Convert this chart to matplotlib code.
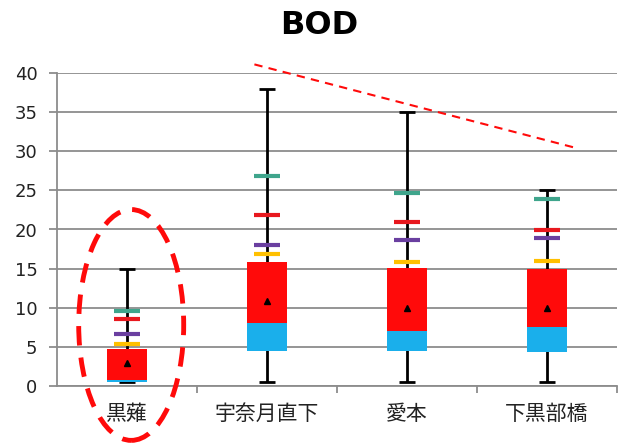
import matplotlib.pyplot as plt
from matplotlib.patches import Ellipse

# -------------------------------
# Data
# -------------------------------
sites = ["黒薙", "宇奈月直下", "愛本", "下黒部橋"]
whisker_min = [0.5, 0.5, 0.5, 0.5]
whisker_max = [15.0, 38.0, 35.0, 25.0]
box_low = [0.5, 4.5, 4.5, 4.3]     # bottom of cyan part
box_mid = [0.8, 8.0, 7.0, 7.5]     # cyan / red boundary
box_high = [4.7, 15.9, 15.1, 14.9]  # top of red part
mean_val = [2.9, 10.8, 10.0, 10.0]
mark_yellow = [5.4, 16.9, 15.9, 16.0]
mark_purple = [6.7, 18.0, 18.6, 18.9]
mark_red = [8.6, 21.8, 20.9, 19.9]
mark_teal = [9.6, 26.8, 24.7, 23.9]

# -------------------------------
# Styles
# -------------------------------
CYAN = "#1AAFEB"
RED = "#FF0A0A"
GRID = "#8C8C8C"
mark_colors = {"yellow": "#FFC000", "purple": "#6A3FA0",
               "red": "#E8181E", "teal": "#3FA58C"}

fig = plt.figure(figsize=(6.2, 4.44), dpi=100)
ax = fig.add_axes([57 / 620, 1 - 386 / 444, 560 / 620, 313 / 444])

x = list(range(len(sites)))

# whiskers behind the boxes
ax.vlines(x, whisker_min, whisker_max, color="black", lw=2, zorder=2)
ax.plot(x, whisker_min, ls="none", marker="_", ms=11, mew=2, color="black", zorder=2)
ax.plot(x, whisker_max, ls="none", marker="_", ms=11, mew=2, color="black", zorder=2)

# stacked box: cyan lower part, red upper part
bw = 0.285
ax.bar(x, [m - l for m, l in zip(box_mid, box_low)], bottom=box_low,
       width=bw, color=CYAN, zorder=3)
ax.bar(x, [h - m for h, m in zip(box_high, box_mid)], bottom=box_mid,
       width=bw, color=RED, zorder=3)

# coloured level marks on the whisker
for vals, key in [(mark_yellow, "yellow"), (mark_purple, "purple"),
                  (mark_red, "red"), (mark_teal, "teal")]:
    ax.plot(x, vals, ls="none", marker="_", ms=19, mew=3,
            color=mark_colors[key], zorder=4)

# mean
ax.plot(x, mean_val, ls="none", marker="^", ms=5, color="black", zorder=5)

# -------------------------------
# Axes
# -------------------------------
ax.set_xlim(-0.5, len(sites) - 0.5)
ax.set_ylim(0, 40)
ax.set_yticks(range(0, 41, 5))
ax.grid(axis="y", color=GRID, lw=1.3, zorder=0)
ax.set_axisbelow(True)

for s in ["top", "right"]:
    ax.spines[s].set_visible(False)
for s in ["left", "bottom"]:
    ax.spines[s].set_color(GRID)
    ax.spines[s].set_linewidth(1.3)

ax.set_xticks(x)
ax.set_xticklabels(sites, family=["Noto Sans CJK JP", "DejaVu Sans"],
                   fontsize=15, color="#222222")
ax.set_xticks([i + 0.5 for i in range(len(sites))], minor=True)
ax.tick_params(axis="x", which="major", length=0, pad=12)
ax.tick_params(axis="x", which="minor", length=5, color=GRID, width=1.3,
               direction="out")
ax.tick_params(axis="y", length=6, color=GRID, width=1.3, pad=8,
               labelsize=13, labelcolor="#222222")

fig.text(0.515, 1 - 25 / 444, "BOD", ha="center", va="center",
         fontsize=23, fontweight="bold")

# annotations: dashed ellipse around 黒薙 and dashed trend line
ell = Ellipse((0.03, 7.8), 0.75, 29.5, fill=False, edgecolor=RED,
              lw=3.5, ls=(0, (4, 2.5)), clip_on=False, zorder=6)
ax.add_patch(ell)
ax.plot([0.91, 3.19], [41.1, 30.5], color=RED, lw=1.5, ls=(0, (4, 3)),
        clip_on=False, zorder=6)

fig.savefig("out.png", dpi=100)
